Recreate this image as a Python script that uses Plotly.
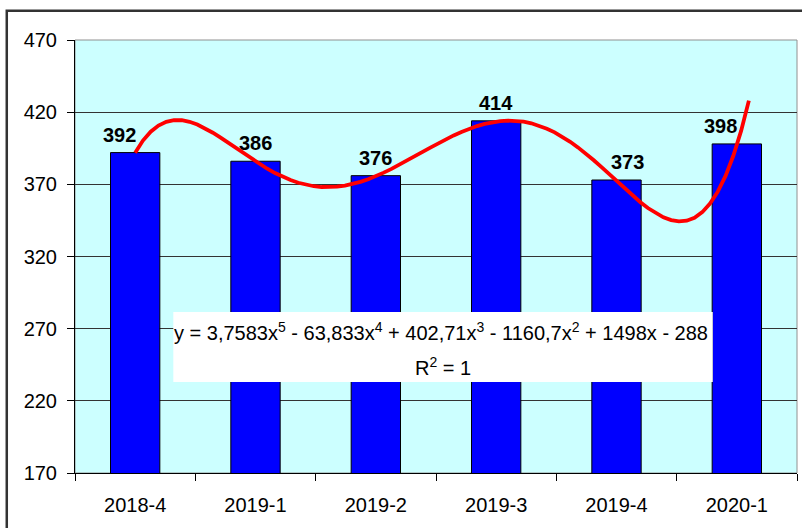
import numpy as np
import plotly.graph_objects as go

# Quarterly values
quarters = ["2018-4", "2019-1", "2019-2", "2019-3", "2019-4", "2020-1"]
values = [392, 386, 376, 414, 373, 398]

# 5th-degree polynomial trend, highest power first
trend_coefs = [3.7583, -63.833, 402.71, -1160.7, 1498, -288]
trend_r2 = 1
trend_forward = 0.1  # forecast beyond the last period

y_ticks = [170, 220, 270, 320, 370, 420, 470]

FONT = "Liberation Sans, Arial, sans-serif"

xs = np.arange(1, len(quarters) + 1)
x_trend = np.linspace(1, len(quarters) + trend_forward, 80)
y_trend = np.polyval(trend_coefs, x_trend)

fig = go.Figure()

fig.add_trace(go.Bar(
    x=xs, y=values, width=0.41,
    marker=dict(color="#0000FF", line=dict(color="#000000", width=1)),
    showlegend=False, hoverinfo="skip",
))

fig.add_trace(go.Scatter(
    x=x_trend, y=y_trend, mode="lines",
    line=dict(color="#FF0000", width=3.8),
    showlegend=False, hoverinfo="skip",
))

# invisible trace carrying the category-boundary tick axis
fig.add_trace(go.Scatter(
    x=[xs[0] - 0.5, xs[-1] + 0.5], y=[None, None], xaxis="x2",
    mode="lines", showlegend=False, hoverinfo="skip",
))

# value labels above bars (some nudged sideways away from the trend line)
label_dx = [-16, 0, 0, 0, 11, -16]
for xi, v, dx in zip(xs, values, label_dx):
    fig.add_annotation(
        x=xi, y=v, text=f"<b>{v}</b>", showarrow=False,
        yanchor="bottom", xanchor="center", xshift=dx, yshift=5,
        font=dict(family=FONT, size=20, color="#000000"),
    )


def fmt(v, nd):
    return f"{abs(v):.{nd}f}".replace(".", ",")


c = trend_coefs
eq = (f"y = {fmt(c[0], 4)}x<sup>5</sup> - {fmt(c[1], 3)}x<sup>4</sup> + "
      f"{fmt(c[2], 2)}x<sup>3</sup> - {fmt(c[3], 1)}x<sup>2</sup> + "
      f"{c[4]:g}x - {abs(c[5]):g}")

# trend equation: white label box and its two lines
eq_font = dict(family=FONT, size=20, color="#000000")
fig.add_annotation(x=3.54, y=268.3, xref="x", yref="y", text=eq,
                   showarrow=False, xanchor="center", yanchor="middle",
                   font=eq_font)
fig.add_annotation(x=3.555, y=244.0, xref="x", yref="y",
                   text=f"R<sup>2</sup> = {trend_r2}",
                   showarrow=False, xanchor="center", yanchor="middle",
                   font=eq_font)

fig.update_layout(
    width=802, height=528,
    margin=dict(l=75, r=5, t=40, b=55),
    paper_bgcolor="#FFFFFF", plot_bgcolor="#CCFFFF",
    font=dict(family=FONT, size=20, color="#000000"),
    xaxis=dict(
        range=[0.5, len(quarters) + 0.5],
        tickvals=list(xs), ticktext=quarters,
        ticks="", showgrid=False, zeroline=False,
        showline=True, linecolor="#000000", linewidth=1,
        ticklabelstandoff=14,
    ),
    xaxis2=dict(
        overlaying="x", anchor="y", side="bottom",
        range=[0.5, len(quarters) + 0.5],
        tickvals=[v + 0.5 for v in range(len(quarters) + 1)],
        showticklabels=False, ticks="outside", ticklen=7,
        tickcolor="#000000", tickwidth=1,
        showgrid=False, zeroline=False, showline=False,
    ),
    yaxis=dict(
        range=[y_ticks[0], y_ticks[-1]], tickvals=y_ticks,
        ticks="outside", ticklen=7, tickcolor="#000000",
        showgrid=True, gridcolor="#333333", gridwidth=1,
        zeroline=False, showline=True, linecolor="#000000", linewidth=1,
        ticklabelstandoff=6,
    ),
    shapes=[
        # plot-area frame (top and right edges)
        dict(type="rect", xref="paper", yref="paper", x0=0, x1=1, y0=0, y1=1,
             line=dict(color="#909090", width=1), layer="below"),
        # white backing of the trend equation
        dict(type="rect", xref="x", yref="y", x0=1.317, x1=5.8,
             y0=233.0, y1=281.5, fillcolor="#FFFFFF",
             line=dict(width=0), layer="above"),
        # outer chart border
        dict(type="rect", xref="paper", yref="paper",
             x0=-0.0945, x1=1.2, y0=-0.3, y1=1.0675,
             line=dict(color="#333333", width=2.5)),
    ],
)

fig.write_html("out.html")
